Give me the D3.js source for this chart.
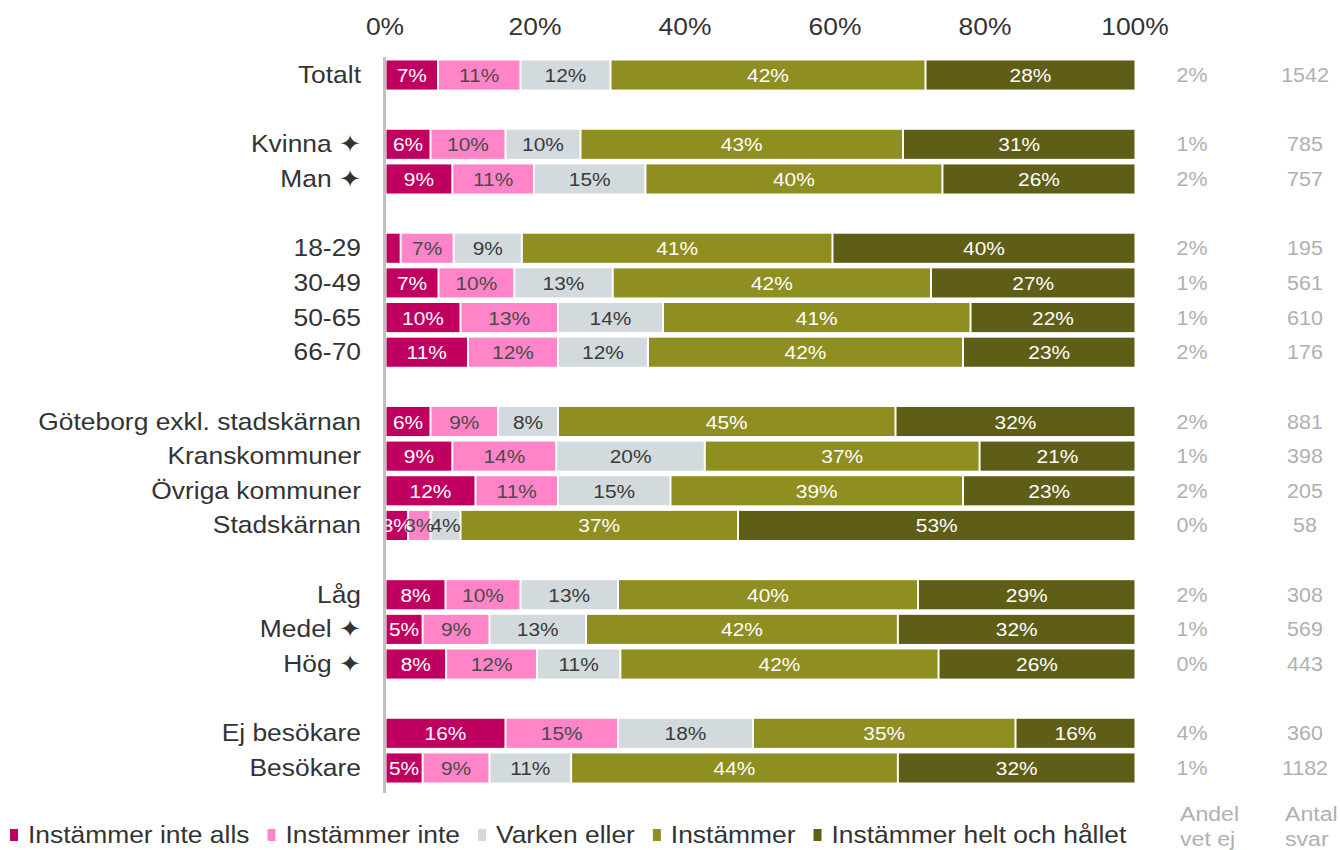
<!DOCTYPE html>
<html>
<head>
<meta charset="utf-8">
<script src="https://cdn.jsdelivr.net/npm/d3@7"></script>
<style>
  body { margin: 0; background: #fff; }
  text { font-family: "Liberation Sans", Arial, sans-serif; }
</style>
</head>
<body>
<div class="container"></div>
<script>
const width = 1340;
const height = 850;
const sx = 1.1; // text in the original is a bit wider

// rows (null = empty gap row)
const categories = [
  "Totalt", null,
  "Kvinna ✦", "Man ✦", null,
  "18-29", "30-49", "50-65", "66-70", null,
  "Göteborg exkl. stadskärnan", "Kranskommuner", "Övriga kommuner", "Stadskärnan", null,
  "Låg", "Medel ✦", "Hög ✦", null,
  "Ej besökare", "Besökare"
];

const seriesNames = ["Instämmer inte alls", "Instämmer inte", "Varken eller", "Instämmer", "Instämmer helt och hållet"];
const colors = ["#c00060", "#ff85c8", "#d3dadd", "#8f8e20", "#5f5e16"];
const labelColors = ["#fff", "#4a4a4a", "#3a3a3a", "#fff", "#fff"];

const inteAlls  = [7, 6, 9, 2, 7, 10, 11, 6, 9, 12, 3, 8, 5, 8, 16, 5];
const inte      = [11, 10, 11, 7, 10, 13, 12, 9, 14, 11, 3, 10, 9, 12, 15, 9];
const varken    = [12, 10, 15, 9, 13, 14, 12, 8, 20, 15, 4, 13, 13, 11, 18, 11];
const instammer = [42, 43, 40, 41, 42, 41, 42, 45, 37, 39, 37, 40, 42, 42, 35, 44];
const heltOch   = [28, 31, 26, 40, 27, 22, 23, 32, 21, 23, 53, 29, 32, 26, 16, 32];

const vetEj = [2, 1, 2, 2, 1, 1, 2, 2, 1, 2, 0, 2, 1, 0, 4, 1];
const antalSvar = [1542, 785, 757, 195, 561, 610, 176, 881, 398, 205, 58, 308, 569, 443, 360, 1182];

const xTicks = [0, 20, 40, 60, 80, 100];

const series = [inteAlls, inte, varken, instammer, heltOch];

const svg = d3.select(".container")
  .append("svg")
  .attr("width", width)
  .attr("height", height);

const x = d3.scaleLinear().domain([0, 100]).range([385, 1135]);
const y = d3.scaleBand()
  .domain(d3.range(categories.length))
  .range([57.7, 785.3])
  .paddingInner(0.16)
  .paddingOuter(0.08);

// place a text with a small horizontal stretch
function place(sel, fx, fy) {
  sel.attr("transform", (d, i) => `translate(${fx(d, i)},${fy(d, i)}) scale(${sx},1)`);
}

// top axis labels
svg.append("g").selectAll("text")
  .data(xTicks)
  .join("text")
  .call(place, d => x(d), () => 35)
  .attr("text-anchor", "middle")
  .attr("font-size", 24)
  .attr("fill", "#333")
  .text(d => d + "%");

// build rows
let k = 0;
const rows = [];
categories.forEach((c, i) => {
  if (c === null) return;
  const vals = series.map(s => s[k]);
  const sum = d3.sum(vals);
  let acc = 0;
  const segs = vals.map((v, j) => {
    const s0 = acc / sum * 100;
    acc += v;
    return { v, j, s0, s1: acc / sum * 100 };
  });
  rows.push({ name: c, slot: i, segs, vetEj: vetEj[k], antal: antalSvar[k] });
  k++;
});

const bh = y.bandwidth();
const rowG = svg.append("g").selectAll("g.row")
  .data(rows)
  .join("g")
  .attr("class", "row")
  .attr("transform", d => `translate(0,${y(d.slot)})`);

rowG.selectAll("rect")
  .data(d => d.segs)
  .join("rect")
  .attr("x", d => x(d.s0) + 1.5)
  .attr("width", d => x(d.s1) - x(d.s0) - 2)
  .attr("y", 0)
  .attr("height", bh)
  .attr("fill", d => colors[d.j]);

rowG.selectAll("text.val")
  .data(d => d.segs.filter(s => s.v >= 3))
  .join("text")
  .attr("class", "val")
  .call(place, d => (x(d.s0) + x(d.s1)) / 2 + 0.5, () => bh / 2 + 7)
  .attr("text-anchor", "middle")
  .attr("font-size", 19)
  .attr("fill", d => labelColors[d.j])
  .text(d => d.v + "%");

// category labels
rowG.append("text")
  .call(place, () => 361, () => bh / 2 + 8)
  .attr("text-anchor", "end")
  .attr("font-size", 24)
  .attr("fill", "#333")
  .text(d => d.name);

// right columns
rowG.append("text")
  .call(place, () => 1192, () => bh / 2 + 7)
  .attr("text-anchor", "middle")
  .attr("font-size", 19.5)
  .attr("fill", "#b0b0b0")
  .text(d => d.vetEj + "%");

rowG.append("text")
  .call(place, () => 1305, () => bh / 2 + 7)
  .attr("text-anchor", "middle")
  .attr("font-size", 19.5)
  .attr("fill", "#b0b0b0")
  .text(d => d.antal);

// vertical axis line
svg.append("line")
  .attr("x1", 384.5).attr("x2", 384.5)
  .attr("y1", 57).attr("y2", 793)
  .attr("stroke", "#c0c0c0")
  .attr("stroke-width", 3);

// column headers
const hdr = [["Andel", "vet ej", 1180], ["Antal", "svar", 1285]];
hdr.forEach(h => {
  const t = svg.append("text")
    .attr("transform", `translate(${h[2]},821) scale(${sx},1)`)
    .attr("font-size", 21)
    .attr("fill", "#b0b0b0");
  t.append("tspan").attr("x", 0).text(h[0]);
  t.append("tspan").attr("x", 0).attr("dy", 25).text(h[1]);
});

// legend
const leg = svg.append("g");
let lx = 10;
seriesNames.forEach((n, i) => {
  leg.append("rect")
    .attr("x", lx).attr("y", 829)
    .attr("width", 8).attr("height", 12)
    .attr("fill", colors[i]);
  const t = leg.append("text")
    .attr("transform", `translate(${lx + 18},843) scale(${sx},1)`)
    .attr("font-size", 24)
    .attr("fill", "#333")
    .text(n);
  lx += 18 + t.node().getComputedTextLength() * sx + 18;
});
</script>
</body>
</html>
